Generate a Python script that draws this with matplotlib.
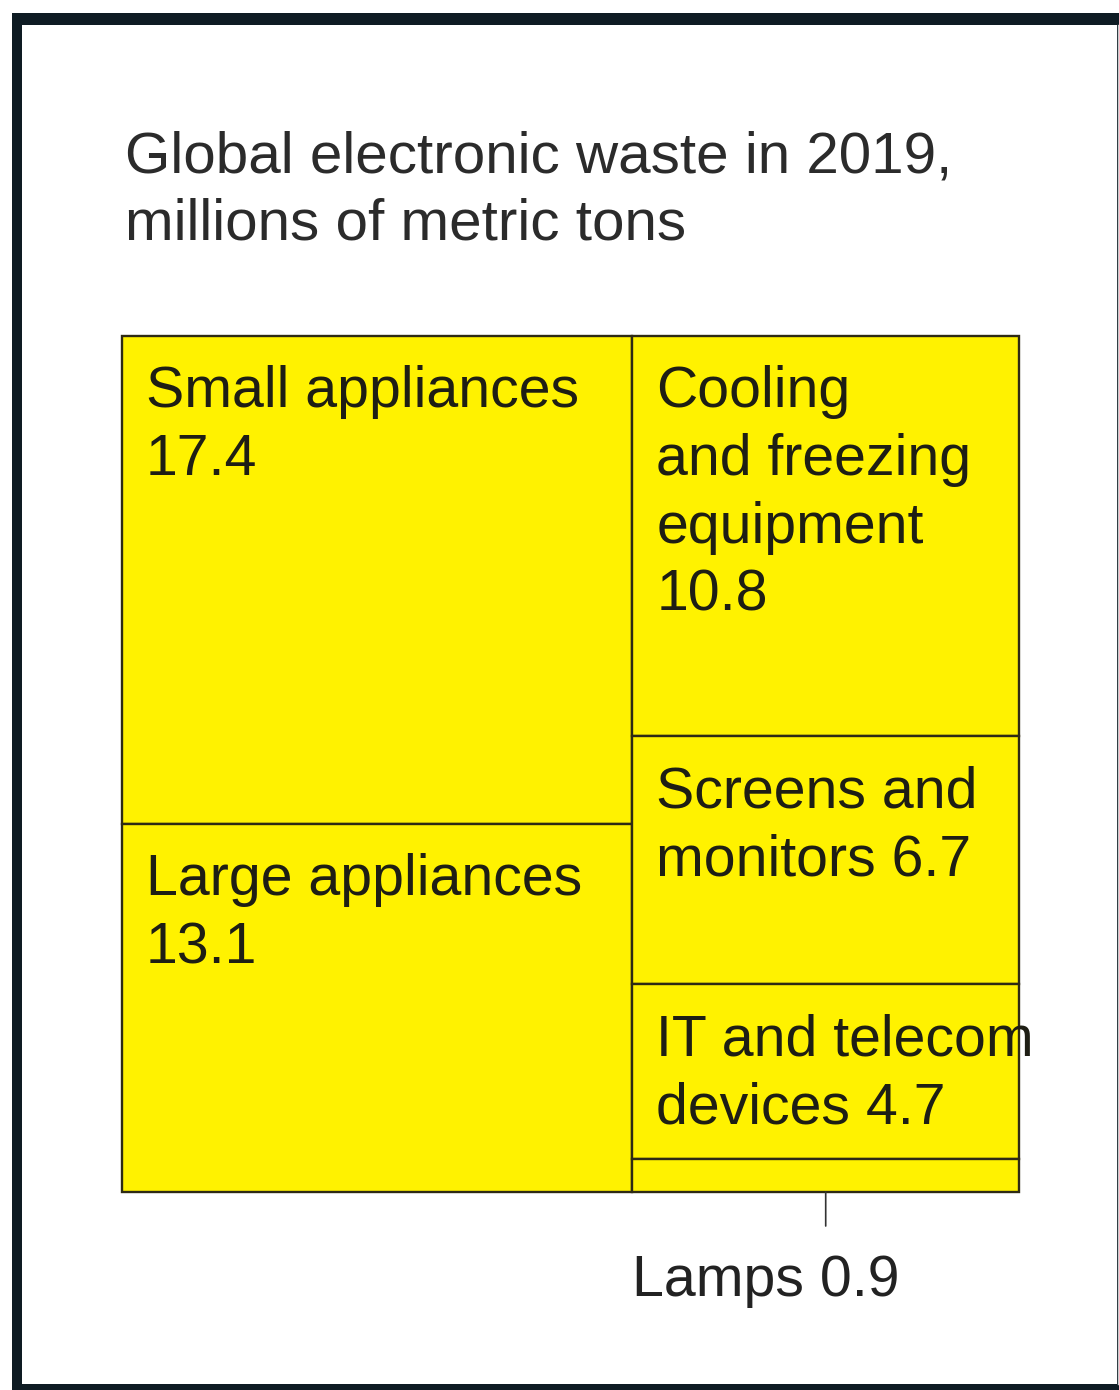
import matplotlib
matplotlib.use("Agg")
import matplotlib.pyplot as plt
from matplotlib.patches import Rectangle
from matplotlib.lines import Line2D

plt.rcParams['font.family'] = ['Liberation Sans', 'DejaVu Sans']

# Global e-waste by category, 2019 (millions of metric tons)
left_categories = ["Small appliances", "Large appliances"]
left_values = [17.4, 13.1]
right_categories = ["Cooling\nand freezing\nequipment", "Screens and\nmonitors", "IT and telecom\ndevices", "Lamps"]
right_values = [10.8, 6.7, 4.7, 0.9]
left_label_fmt = ["{name}\n{val}", "{name}\n{val}"]
right_label_fmt = ["{name}\n{val}", "{name} {val}", "{name} {val}", None]

title = "Global electronic waste in 2019,\nmillions of metric tons"

W, H = 1119, 1390
DPI = 100
fig = plt.figure(figsize=(W / DPI, H / DPI), dpi=DPI)
fig.patch.set_facecolor("white")

# outer frame: dark panel with a white card on top
frame_ax = fig.add_axes([0, 0, 1, 1])
frame_ax.set_xlim(0, W)
frame_ax.set_ylim(H, 0)
frame_ax.axis("off")
frame_ax.add_patch(Rectangle((12, 13), 1200, 1400, facecolor="#0e1b23", edgecolor="none"))
frame_ax.add_patch(Rectangle((22, 25), 1095, 1359, facecolor="white", edgecolor="none"))
frame_ax.add_line(Line2D([1117.5, 1117.5], [25, 1384], color="#c9ccce", linewidth=1.0))

fig.text(125 / W, 1 - 131 / H, title, ha="left", va="top", fontsize=42,
         color="#2b2b2b", linespacing=1.3)

# treemap area
ax = fig.add_axes([122 / W, 1 - 1192 / H, 897 / W, 856 / H])
ax.set_xlim(0, 1)
ax.set_ylim(1, 0)
ax.axis("off")

FILL = "#fff200"
EDGE = "#2e2a14"
TXT = "#1e1e14"
FS = 41.2

total = sum(left_values) + sum(right_values)
left_w = sum(left_values) / total

def column(x0, width, names, vals, fmts):
    y = 0.0
    col_total = sum(vals)
    rects = []
    for name, v, fmt in zip(names, vals, fmts):
        h = v / col_total
        ax.add_patch(Rectangle((x0, y), width, h, facecolor=FILL, edgecolor=EDGE,
                               linewidth=1.7, clip_on=False))
        if fmt is not None:
            ax.annotate(fmt.format(name=name, val=v), xy=(x0, y), xytext=(24, -29),
                        textcoords="offset pixels", ha="left", va="top",
                        fontsize=FS, color=TXT, linespacing=1.33)
        rects.append((x0, y, width, h))
        y += h
    return rects

column(0.0, left_w, left_categories, left_values, left_label_fmt)
right_rects = column(left_w, 1 - left_w, right_categories, right_values, right_label_fmt)

# callout for the smallest category
lx, ly, lw, lh = right_rects[-1]
ax.annotate("", xy=(lx + lw / 2, ly + lh), xytext=(0, -34), textcoords="offset pixels",
            arrowprops=dict(arrowstyle="-", color="#333333", lw=1.2, shrinkA=0, shrinkB=0))
ax.annotate(f"{right_categories[-1]} {right_values[-1]}", xy=(lx, ly + lh),
            xytext=(0, -62), textcoords="offset pixels", ha="left", va="top",
            fontsize=FS, color="#222222")

fig.savefig("out.png", dpi=DPI, facecolor="white")
